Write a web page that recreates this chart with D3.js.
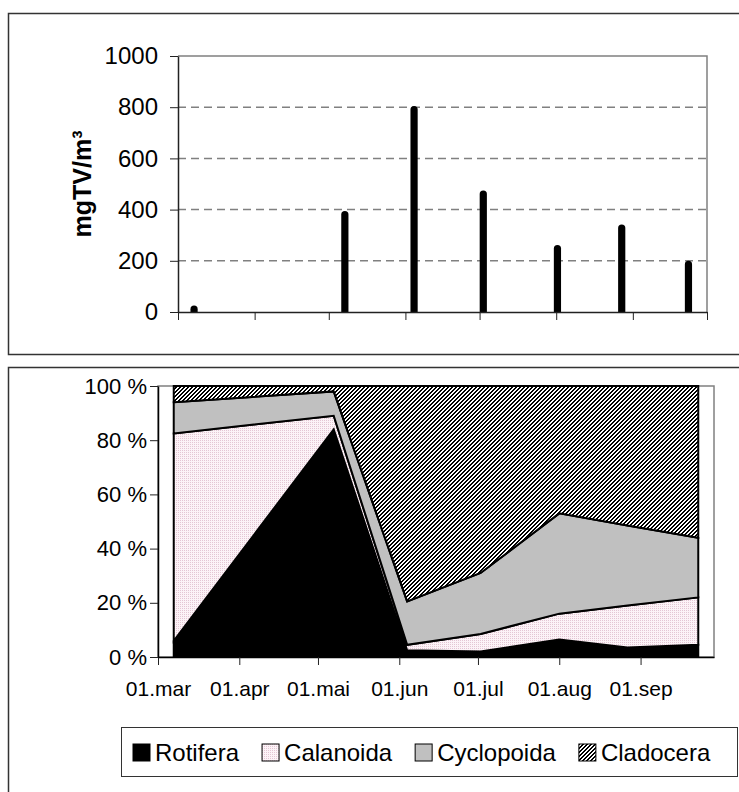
<!DOCTYPE html>
<html>
<head>
<meta charset="utf-8">
<script src="https://cdnjs.cloudflare.com/ajax/libs/d3/7.8.5/d3.min.js"></script>
<style>
body { margin: 0; background: #fff; }
svg text { font-family: "Liberation Sans", Arial, sans-serif; fill: #000; }
</style>
</head>
<body>
<script>
// sampling dates, same for both panels
const sampleDates = ["2003-03-07", "2003-05-07", "2003-06-04", "2003-07-02", "2003-08-01", "2003-08-27", "2003-09-23"];
// total biomass, mgTV/m3
const biomass = [25, 395, 805, 475, 262, 342, 200];
// share of biomass per group, %
const rotifera   = [6, 84, 2.5, 2, 6.5, 3.5, 4.5];
const calanoida  = [76.5, 5, 2, 6.5, 9.5, 15.5, 17.5];
const cyclopoida = [11.5, 9, 16, 22.5, 37, 29.5, 22];
const cladocera  = [6, 2, 79.5, 69, 47, 51.5, 56];
const groups = ["Rotifera", "Calanoida", "Cyclopoida", "Cladocera"];
const monthLabels = ["01.mar", "01.apr", "01.mai", "01.jun", "01.jul", "01.aug", "01.sep"];
const biomassTicks = [0, 200, 400, 600, 800, 1000];
const percentTicks = [0, 20, 40, 60, 80, 100];

const parse = d3.timeParse("%Y-%m-%d");
const start = parse("2003-03-01");

var svg = d3.select("body").append("svg")
    .attr("width", 739)
    .attr("height", 792);

// fill patterns
var defs = svg.append("defs");
var dots = defs.append("pattern").attr("id", "dots")
    .attr("patternUnits", "userSpaceOnUse").attr("width", 2).attr("height", 2);
dots.append("rect").attr("width", 2).attr("height", 2).attr("fill", "#fcf3f7");
dots.append("rect").attr("width", 1).attr("height", 1).attr("fill", "#e4c6d4");
// 4x4 upward diagonal, two pixels thick
var hatch = defs.append("pattern").attr("id", "hatch")
    .attr("patternUnits", "userSpaceOnUse").attr("width", 4).attr("height", 4);
hatch.append("rect").attr("width", 4).attr("height", 4).attr("fill", "#fff");
hatch.selectAll("rect.px")
    .data(d3.cross(d3.range(4), d3.range(4)).filter(p => (p[0] + p[1]) % 4 >= 2))
    .enter().append("rect")
    .attr("class", "px")
    .attr("x", p => p[0]).attr("y", p => p[1])
    .attr("width", 1).attr("height", 1)
    .attr("fill", "#000");

const fills = ["#000", "url(#dots)", "#c0c0c0", "url(#hatch)"];

// panel frames
svg.append("rect").attr("x", 8.5).attr("y", 13.5).attr("width", 740).attr("height", 341)
    .attr("fill", "none").attr("stroke", "#333").attr("stroke-width", 1.5);
svg.append("rect").attr("x", 8.5).attr("y", 367.5).attr("width", 740).attr("height", 440)
    .attr("fill", "none").attr("stroke", "#333").attr("stroke-width", 1.5);

// ---------- top panel: biomass ----------
var xTop = d3.scaleTime().domain([start, d3.timeMonth.offset(start, 7)]).range([178, 707]);
var yTop = d3.scaleLinear().domain([0, 1000]).range([312, 56]);

var gTop = svg.append("g");

// dashed gridlines
gTop.selectAll(".grid")
    .data(biomassTicks.filter(d => d > 0 && d < 1000))
    .enter().append("line")
    .attr("x1", xTop.range()[0]).attr("x2", xTop.range()[1])
    .attr("y1", d => yTop(d)).attr("y2", d => yTop(d))
    .attr("stroke", "#808080").attr("stroke-width", 1.5)
    .attr("stroke-dasharray", "8,5");

// plot border top + right
gTop.append("path")
    .attr("d", "M" + xTop.range()[0] + "," + yTop(1000) + "H" + xTop.range()[1] + "V" + yTop(0))
    .attr("fill", "none").attr("stroke", "#808080").attr("stroke-width", 1.5);

// bars with rounded top, centred in their day
var bw = 3.6;
gTop.selectAll(".bar")
    .data(sampleDates.map((d, i) => ({date: parse(d), value: biomass[i]})))
    .enter().append("path")
    .attr("fill", "#000")
    .attr("d", function (d) {
        var cx = xTop(d3.timeHour.offset(d.date, 12));
        var y0 = yTop(0), y1 = yTop(d.value);
        return "M" + (cx - bw) + "," + y0 + "V" + (y1 + bw) +
            "A" + bw + "," + bw + " 0 0 1 " + (cx + bw) + "," + (y1 + bw) +
            "V" + y0 + "Z";
    });

// x axis, monthly ticks, no labels
var gxTop = gTop.append("g")
    .attr("transform", "translate(0," + yTop(0) + ")")
    .call(d3.axisBottom(xTop)
        .tickValues(d3.range(8).map(i => d3.timeMonth.offset(start, i)))
        .tickFormat("")
        .tickSize(8)
        .tickSizeOuter(0));
gxTop.select(".domain").attr("stroke", "#222").attr("stroke-width", 1.5);
gxTop.selectAll(".tick line").attr("stroke", "#222");

// y axis
var gyTop = gTop.append("g")
    .attr("transform", "translate(" + xTop.range()[0] + ",0)")
    .call(d3.axisLeft(yTop).tickValues(biomassTicks).tickFormat(d3.format("d"))
        .tickSize(8).tickPadding(12).tickSizeOuter(0));
gyTop.attr("font-size", 24).attr("font-family", null);
gyTop.select(".domain").attr("stroke", "#222").attr("stroke-width", 1.5);
gyTop.selectAll(".tick line").attr("stroke", "#222");

svg.append("text")
    .attr("transform", "translate(82," + ((yTop(0) + yTop(1000)) / 2) + ") rotate(-90)")
    .attr("text-anchor", "middle")
    .attr("dy", "0.35em")
    .attr("font-weight", "bold")
    .attr("font-size", 25)
    .text("mgTV/m³");

// ---------- bottom panel: composition ----------
var xBot = d3.scaleTime().domain([start, parse("2003-09-29")]).range([158, 714]);
var yBot = d3.scaleLinear().domain([0, 100]).range([657, 386]);

var table = sampleDates.map((d, i) => ({
    date: parse(d),
    Rotifera: rotifera[i],
    Calanoida: calanoida[i],
    Cyclopoida: cyclopoida[i],
    Cladocera: cladocera[i]
}));
var series = d3.stack().keys(groups).offset(d3.stackOffsetExpand)(table);

var gBot = svg.append("g");

gBot.append("rect")
    .attr("x", xBot.range()[0]).attr("y", yBot(100))
    .attr("width", xBot.range()[1] - xBot.range()[0])
    .attr("height", yBot(0) - yBot(100))
    .attr("fill", "#fff").attr("stroke", "#808080").attr("stroke-width", 1.5);

var area = d3.area()
    .x(d => xBot(d.data.date))
    .y0(d => yBot(d[0] * 100))
    .y1(d => yBot(d[1] * 100));

gBot.selectAll(".layer")
    .data(series)
    .enter().append("path")
    .attr("d", area)
    .attr("fill", (d, i) => fills[i])
    .attr("stroke", "#000")
    .attr("stroke-width", 2)
    .attr("stroke-linejoin", "miter");

var gxBot = gBot.append("g")
    .attr("transform", "translate(0," + yBot(0) + ")")
    .call(d3.axisBottom(xBot)
        .tickValues(monthLabels.map((m, i) => d3.timeMonth.offset(start, i)))
        .tickFormat((d, i) => monthLabels[i])
        .tickSize(8)
        .tickPadding(16)
        .tickSizeOuter(0));
gxBot.attr("font-size", 21).attr("font-family", null);
gxBot.select(".domain").attr("stroke", "#000").attr("stroke-width", 1.5);
gxBot.selectAll(".tick line").attr("stroke", "#222");

var gyBot = gBot.append("g")
    .attr("transform", "translate(" + xBot.range()[0] + ",0)")
    .call(d3.axisLeft(yBot).tickValues(percentTicks).tickFormat(d => d + " %")
        .tickSize(8).tickPadding(3).tickSizeOuter(0));
gyBot.attr("font-size", 22).attr("font-family", null);
gyBot.select(".domain").attr("stroke", "#000").attr("stroke-width", 1.5);
gyBot.selectAll(".tick line").attr("stroke", "#222");

// legend
var legend = svg.append("g");
legend.append("rect")
    .attr("x", 121.5).attr("y", 727.5).attr("width", 616).attr("height", 49)
    .attr("fill", "#fff").attr("stroke", "#333");
var lx = 133;
groups.forEach(function (g, i) {
    legend.append("rect")
        .attr("x", lx).attr("y", 744).attr("width", 17).attr("height", 17)
        .attr("fill", fills[i]).attr("stroke", "#000");
    var t = legend.append("text")
        .attr("x", lx + 22).attr("y", 761)
        .attr("font-size", 24)
        .text(g);
    lx += 22 + t.node().getComputedTextLength() + 23;
});
</script>
</body>
</html>
